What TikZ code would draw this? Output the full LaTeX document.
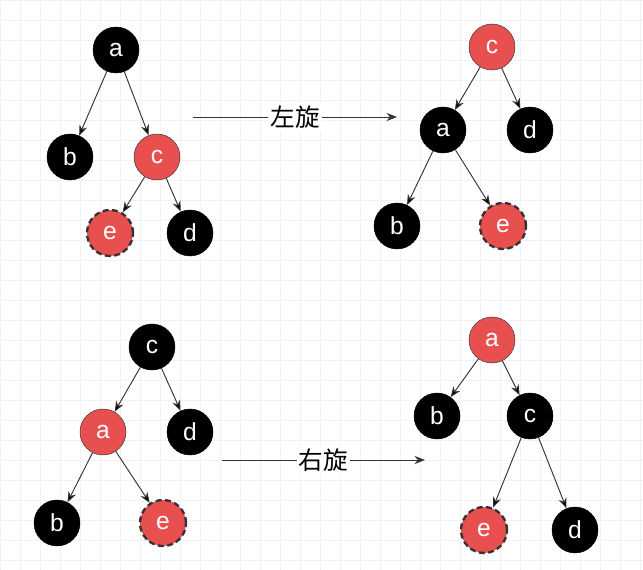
\documentclass[tikz,border=0pt]{standalone}
\usepackage{fontspec}
\setmainfont{Liberation Sans}
\newfontfamily\cjk{Noto Sans CJK SC}
\usetikzlibrary{arrows.meta}
\definecolor{rbred}{HTML}{E85050}
\definecolor{gridgray}{HTML}{F2F2F2}
\tikzset{
  blk/.style={shape=circle,fill=black,draw=black,minimum size=1.38cm,inner sep=0pt,text=white,font=\fontsize{21}{24}\selectfont},
  red/.style={shape=circle,fill=rbred,draw=black!80,minimum size=1.38cm,inner sep=0pt,text=white,font=\fontsize{21}{24}\selectfont},
  new/.style={red,draw=black!80,dash pattern=on 5pt off 3pt,line width=2pt},
  lnk/.style={-{Stealth[length=9pt,width=7pt]},draw=black!80,line width=0.8pt}
}
\begin{document}
\begin{tikzpicture}[x=0.03cm,y=-0.03cm]
\useasboundingbox (0,0) rectangle (643,570);
\foreach \g in {0,20,...,640} \draw[gridgray] (\g,0) -- (\g,570);
\foreach \g in {0,20,...,560} \draw[gridgray] (0,\g) -- (643,\g);
% left rotation, before
\node[blk] (a1) at (116,50) {a};
\node[blk] (b1) at (70,157) {b};
\node[red] (c1) at (157,157) {c};
\node[new] (e1) at (110,233) {e};
\node[blk] (d1) at (190,233) {d};
\path [lnk] (a1) edge (b1) (a1) edge (c1) (c1) edge (e1) (c1) edge (d1);
% left rotation, after
\node[red] (c2) at (492,47) {c};
\node[blk] (a2) at (443,130) {a};
\node[blk] (d2) at (530,130) {d};
\node[blk] (b2) at (397,226) {b};
\node[new] (e2) at (503,226) {e};
\path [lnk] (c2) edge (a2) (c2) edge (d2) (a2) edge (b2) (a2) edge (e2);
\coordinate (l1) at (193,117);
\coordinate (l2) at (397,117);
\draw[lnk] (l1) -- node[fill=white,inner sep=2pt,font=\cjk\fontsize{21}{24}\selectfont] {左旋} (l2);
% right rotation, before
\node[blk] (c3) at (152,347) {c};
\node[red] (a3) at (103,432) {a};
\node[blk] (d3) at (190,432) {d};
\node[blk] (b3) at (57,523) {b};
\node[new] (e3) at (163,523) {e};
\path [lnk] (c3) edge (a3) (c3) edge (d3) (a3) edge (b3) (a3) edge (e3);
% right rotation, after
\node[red] (a4) at (492,340) {a};
\node[blk] (b4) at (437,416) {b};
\node[blk] (c4) at (530,416) {c};
\node[new] (e4) at (484,530) {e};
\node[blk] (d4) at (575,530) {d};
\path [lnk] (a4) edge (b4) (a4) edge (c4) (c4) edge (e4) (c4) edge (d4);
\coordinate (r1) at (222,460);
\coordinate (r2) at (425,460);
\draw[lnk] (r1) -- node[fill=white,inner sep=2pt,font=\cjk\fontsize{21}{24}\selectfont] {右旋} (r2);
\end{tikzpicture}
\end{document}
